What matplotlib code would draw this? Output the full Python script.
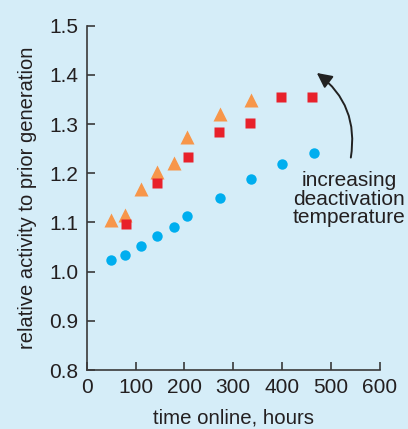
import matplotlib
matplotlib.use("Agg")
import matplotlib.pyplot as plt

plt.rcParams['font.family'] = ['Liberation Sans', 'DejaVu Sans']

tri_x = [50, 78, 112, 144, 179, 206, 272, 336]
tri_y = [1.104, 1.115, 1.169, 1.202, 1.221, 1.273, 1.320, 1.349]
sq_x = [80, 144, 208, 271, 335, 398, 462]
sq_y = [1.097, 1.180, 1.234, 1.284, 1.302, 1.355, 1.356]
circ_x = [50, 78, 112, 144, 179, 206, 272, 336, 400, 465]
circ_y = [1.023, 1.034, 1.053, 1.072, 1.091, 1.113, 1.150, 1.188, 1.219, 1.242]

xticks = [0, 100, 200, 300, 400, 500, 600]
yticks = [0.8, 0.9, 1.0, 1.1, 1.2, 1.3, 1.4, 1.5]

bg = '#d5edf8'
axc = '#3a3a3a'
txt = '#231f20'
fig = plt.figure(figsize=(4.08, 4.29), dpi=100, facecolor=bg)
ax = fig.add_axes([0.2125, 0.1375, 0.7185, 0.8025], facecolor=bg)

ax.plot(tri_x, tri_y, '^', color='#f7964a', ms=9.5, mec='none', clip_on=False)
ax.plot(sq_x, sq_y, 's', color='#e8212b', ms=7.8, mec='none', clip_on=False)
ax.plot(circ_x, circ_y, 'o', color='#00aeef', ms=7.5, mec='none', clip_on=False)

ax.set_xlim(0, 600)
ax.set_ylim(0.8, 1.5)
ax.set_xticks(xticks)
ax.set_yticks(yticks)
ax.set_yticklabels([f'{v:.1f}' for v in yticks])
for s in ['top', 'right']:
    ax.spines[s].set_visible(False)
for s in ['left', 'bottom']:
    ax.spines[s].set_color(axc)
    ax.spines[s].set_linewidth(1.2)
ax.tick_params(direction='in', length=6, width=1.2, color=axc, labelsize=15,
               labelcolor=txt, pad=6)
ax.set_xlabel('time online, hours', fontsize=14.7, color=txt, labelpad=8)
ax.set_ylabel('relative activity to prior generation', fontsize=14.5, color=txt, labelpad=9)

ax.annotate('', xy=(471, 1.404), xytext=(540.6, 1.232),
            arrowprops=dict(arrowstyle='-|>,head_length=0.9,head_width=0.45', color='#222222', lw=1.4,
                            connectionstyle='arc3,rad=0.3', shrinkA=0, shrinkB=0),
            annotation_clip=False)
ax.text(537, 1.1476, 'increasing\ndeactivation\ntemperature', ha='center', va='center',
        fontsize=15, color=txt, linespacing=0.95, clip_on=False)

fig.savefig('out.png', dpi=100, facecolor=bg)
